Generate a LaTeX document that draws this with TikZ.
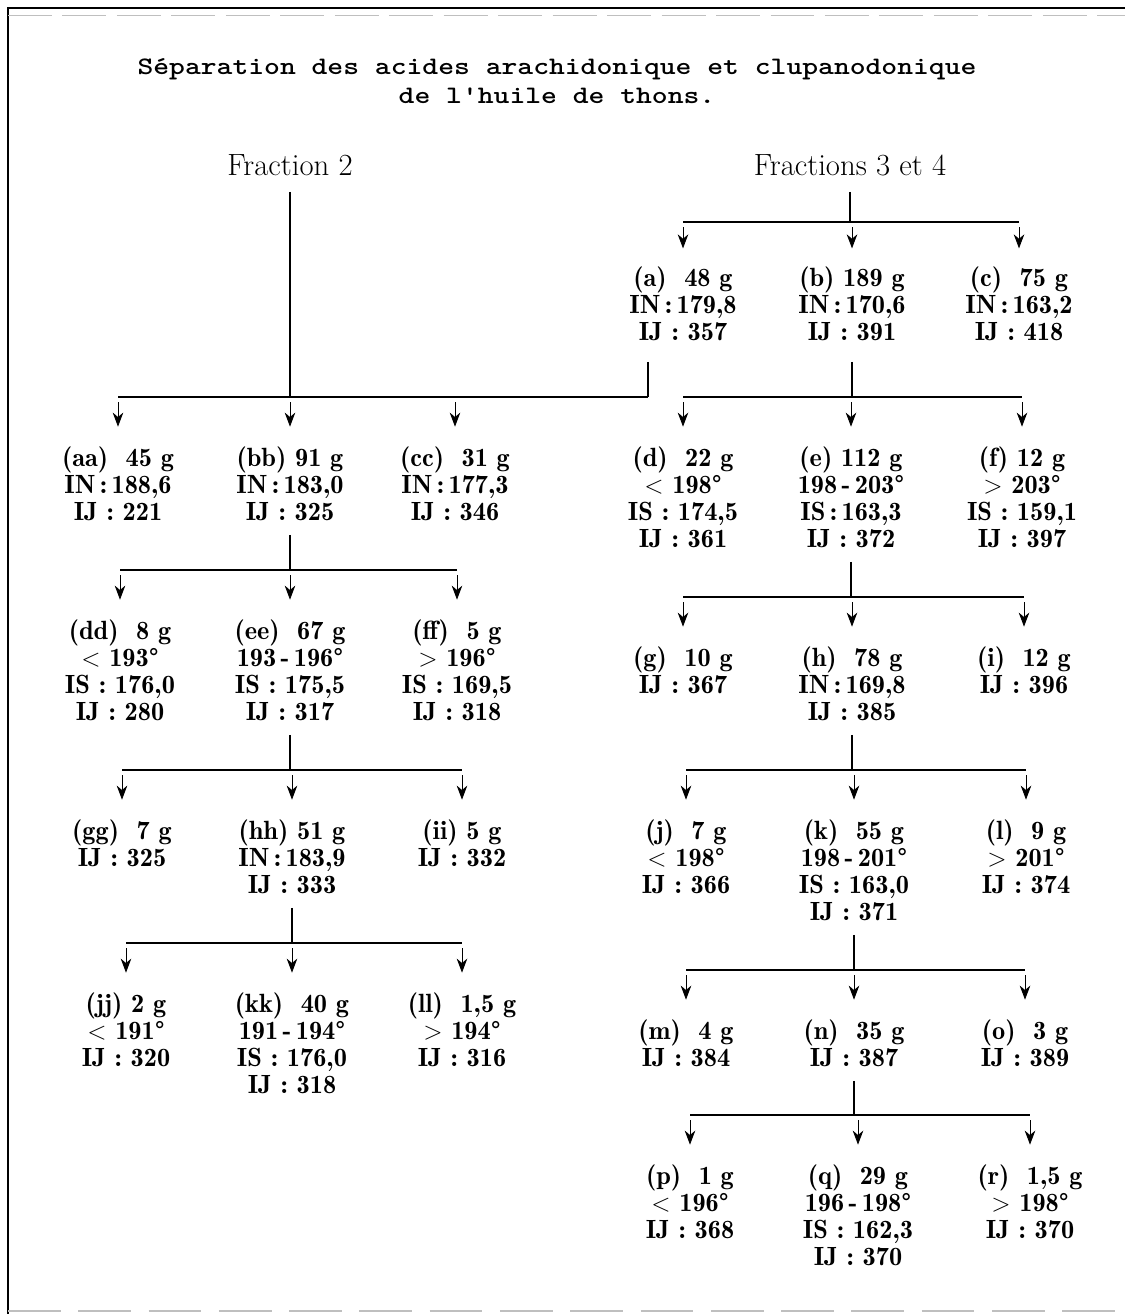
\documentclass[tikz,border=0pt]{standalone}
\usepackage{fontspec}
\usetikzlibrary{arrows.meta}
\newfontfamily\titlefont{lmmonolt10-bold.otf}[FakeStretch=1.2]
\newfontfamily\nodefont{lmromandemi10-regular.otf}
\begin{document}
\begin{tikzpicture}[x=0.02cm,y=-0.02cm,
  lbl/.style={align=center, inner sep=0pt, anchor=north, font=\nodefont\fontsize{15}{15.4}\selectfont},
  frac/.style={inner sep=0pt, font=\fontsize{17.5}{19}\selectfont},
  ttl/.style={align=center, inner sep=0pt, font=\titlefont\fontsize{14.3}{16.5}\selectfont},
  hline/.style={line width=0.8pt},
  vline/.style={line width=0.9pt},
  drop/.style={line width=0.5pt, shorten <=3pt, -{Stealth[length=8pt,width=6pt,inset=2.5pt]}},
  frame/.style={line width=1.4pt}]
\useasboundingbox (0,0) rectangle (1125,1314);
% frame
\draw[frame] (8,1314) -- (8,8) -- (1125,8);
\draw[gray!50, line width=0.4pt, dash pattern=on 25pt off 6pt] (8,15) -- (1125,15);
\draw[gray!50, line width=0.6pt, dash pattern=on 30pt off 10pt] (8,1311) -- (1125,1311);
% title
\node[ttl] (title) at (557,81) {Séparation des acides arachidonique et clupanodonique\\de l'huile de thons.};
\node[frac] (f2) at (290,165) {Fraction 2};
\node[frac] (f34) at (850,165) {Fractions 3 et 4};
% ---------- right branch ----------
\node[lbl] (na) at (683,266) {(a)\ \ 48\ g\\IN\,:\,179,8\\IJ\ :\ 357};
\node[lbl] (nb) at (852,266) {(b)\ 189 g\\IN\,:\,170,6\\IJ\ :\ 391};
\node[lbl] (nc) at (1019,266) {(c)\ \ 75\ g\\IN\,:\,163,2\\IJ\ :\ 418};
\node[lbl] (nd) at (683,446) {(d)\ \ 22\ g\\$<$\ 198°\\IS\ :\ 174,5\\IJ\ :\ 361};
\node[lbl] (ne) at (851,446) {(e)\ 112 g\\198\,-\,203°\\IS\,:\,163,3\\IJ\ :\ 372};
\node[lbl] (nf) at (1022,446) {(f)\ 12 g\\$>$\ 203°\\IS\ :\ 159,1\\IJ\ :\ 397};
\node[lbl] (ng) at (683,646) {(g)\ \ 10\ g\\IJ\ :\ 367};
\node[lbl] (nh) at (852,646) {(h)\ \ 78\ g\\IN\,:\,169,8\\IJ\ :\ 385};
\node[lbl] (ni) at (1024,646) {(i)\ \ 12\ g\\IJ\ :\ 396};
\node[lbl] (nj) at (686,819) {(j)\ \ 7\ g\\$<$\ 198°\\IJ\ :\ 366};
\node[lbl] (nk) at (854,819) {(k)\ \ 55\ g\\198\,-\,201°\\IS\ :\ 163,0\\IJ\ :\ 371};
\node[lbl] (nl) at (1026,819) {(l)\ \ 9\ g\\$>$\ 201°\\IJ\ :\ 374};
\node[lbl] (nm) at (686,1019) {(m)\ \ 4\ g\\IJ\ :\ 384};
\node[lbl] (nn) at (854,1019) {(n)\ \ 35\ g\\IJ\ :\ 387};
\node[lbl] (no) at (1025,1019) {(o)\ \ 3 g\\IJ\ :\ 389};
\node[lbl] (np) at (690,1164) {(p)\ \ 1\ g\\$<$\ 196°\\IJ\ :\ 368};
\node[lbl] (nq) at (858,1164) {(q)\ \ 29\ g\\196\,-\,198°\\IS\ :\ 162,3\\IJ\ :\ 370};
\node[lbl] (nr) at (1030,1164) {(r)\ \ 1,5\ g\\$>$\ 198°\\IJ\ :\ 370};
% ---------- left branch ----------
\node[lbl] (naa) at (118,446) {(aa)\ \ 45\ g\\IN\,:\,188,6\\IJ\ :\ 221};
\node[lbl] (nbb) at (290,446) {(bb)\ 91 g\\IN\,:\,183,0\\IJ\ :\ 325};
\node[lbl] (ncc) at (455,446) {(cc)\ \ 31 g\\IN\,:\,177,3\\IJ\ :\ 346};
\node[lbl] (ndd) at (120,619) {(dd)\ \ 8\ g\\$<$\ 193°\\IS\ :\ 176,0\\IJ\ :\ 280};
\node[lbl] (nee) at (290,619) {(ee)\ \ 67\ g\\193\,-\,196°\\IS\ :\ 175,5\\IJ\ :\ 317};
\node[lbl] (nff) at (457,619) {(ff)\ \ 5 g\\$>$\ 196°\\IS\ :\ 169,5\\IJ\ :\ 318};
\node[lbl] (ngg) at (122,819) {(gg)\ \ 7\ g\\IJ\ :\ 325};
\node[lbl] (nhh) at (292,819) {(hh)\ 51 g\\IN\,:\,183,9\\IJ\ :\ 333};
\node[lbl] (nii) at (462,819) {(ii)\ 5 g\\IJ\ :\ 332};
\node[lbl] (njj) at (126,992) {(jj)\ 2 g\\$<$\ 191°\\IJ\ :\ 320};
\node[lbl] (nkk) at (292,992) {(kk)\ \ 40 g\\191\,-\,194°\\IS\ :\ 176,0\\IJ\ :\ 318};
\node[lbl] (nll) at (462,992) {(ll)\ \ 1,5 g\\$>$\ 194°\\IJ\ :\ 316};
% ---------- junction points ----------
\coordinate (R1) at (850,222);
\coordinate (Ja) at (648,397);
\coordinate (R2) at (852,397);
\coordinate (R3) at (851,597);
\coordinate (R4) at (852,770);
\coordinate (R5) at (854,970);
\coordinate (R6) at (854,1115);
\coordinate (L2) at (290,397);
\coordinate (L3) at (290,570);
\coordinate (L4) at (290,770);
\coordinate (L5) at (292,943);
% ---------- connectors: right ----------
\draw[vline, shorten <=9pt] (f34.south) -- (f34.south |- R1);
\draw[hline] (na.north |- R1) -- (nc.north |- R1);
\foreach \c in {na,nb,nc} \draw[drop] (\c.north |- R1) -- ([yshift=10pt]\c.north);
\draw[vline, shorten <=12pt] (na.south -| Ja) -- (Ja);
\draw[vline, shorten <=12pt] (nb.south) -- (nb.south |- R2);
\draw[hline] (nd.north |- R2) -- (nf.north |- R2);
\foreach \c in {nd,ne,nf} \draw[drop] (\c.north |- R2) -- ([yshift=11pt]\c.north);
\draw[vline, shorten <=8pt] (ne.south) -- (ne.south |- R3);
\draw[hline] (ng.north |- R3) -- (ni.north |- R3);
\foreach \c in {ng,nh,ni} \draw[drop] (\c.north |- R3) -- ([yshift=11pt]\c.north);
\draw[vline, shorten <=8pt] (nh.south) -- (nh.south |- R4);
\draw[hline] (nj.north |- R4) -- (nl.north |- R4);
\foreach \c in {nj,nk,nl} \draw[drop] (\c.north |- R4) -- ([yshift=11pt]\c.north);
\draw[vline, shorten <=8pt] (nk.south) -- (nk.south |- R5);
\draw[hline] (nm.north |- R5) -- (no.north |- R5);
\foreach \c in {nm,nn,no} \draw[drop] (\c.north |- R5) -- ([yshift=11pt]\c.north);
\draw[vline, shorten <=8pt] (nn.south) -- (nn.south |- R6);
\draw[hline] (np.north |- R6) -- (nr.north |- R6);
\foreach \c in {np,nq,nr} \draw[drop] (\c.north |- R6) -- ([yshift=11pt]\c.north);
% ---------- connectors: left ----------
\draw[vline, shorten <=9pt] (f2.south) -- (f2.south |- L2);
\draw[hline] (naa.north |- Ja) -- (Ja);
\foreach \c in {naa,nbb,ncc} \draw[drop] (\c.north |- L2) -- ([yshift=11pt]\c.north);
\draw[vline, shorten <=8pt] (nbb.south) -- (nbb.south |- L3);
\draw[hline] (ndd.north |- L3) -- (nff.north |- L3);
\foreach \c in {ndd,nee,nff} \draw[drop] (\c.north |- L3) -- ([yshift=11pt]\c.north);
\draw[vline, shorten <=8pt] (nee.south) -- (nee.south |- L4);
\draw[hline] (ngg.north |- L4) -- (nii.north |- L4);
\foreach \c in {ngg,nhh,nii} \draw[drop] (\c.north |- L4) -- ([yshift=11pt]\c.north);
\draw[vline, shorten <=8pt] (nhh.south) -- (nhh.south |- L5);
\draw[hline] (njj.north |- L5) -- (nll.north |- L5);
\foreach \c in {njj,nkk,nll} \draw[drop] (\c.north |- L5) -- ([yshift=11pt]\c.north);
\end{tikzpicture}
\end{document}
